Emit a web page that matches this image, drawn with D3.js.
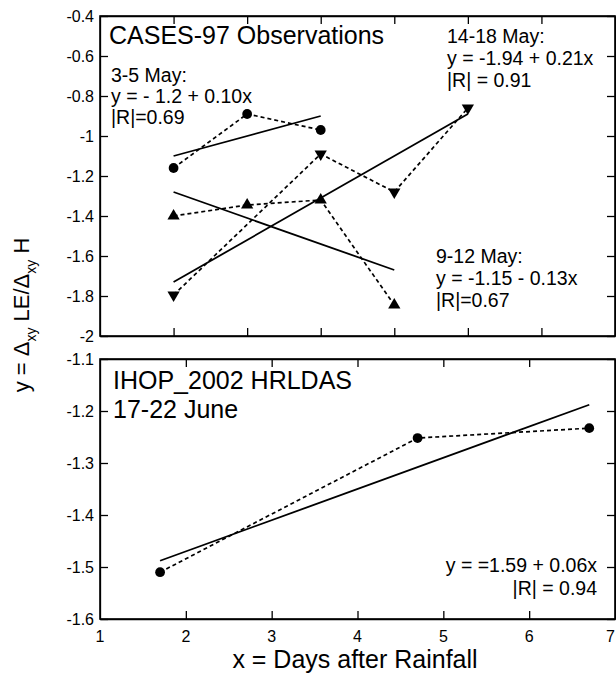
<!DOCTYPE html>
<html lang="en">
<head>
<meta charset="UTF-8">
<title>Delta LE / Delta H vs days after rainfall</title>
<script src="https://d3js.org/d3.v7.min.js"></script>
<style>
  body { margin: 0; background: #fff; }
  svg text { font-family: "Liberation Sans", Arial, sans-serif; fill: #000; }
  .axis path, .axis line { stroke: #000; stroke-width: 1.3; }
  .axis text { font-size: 16px; }
</style>
</head>
<body>
<div id="chart"></div>
<script>
// top panel: CASES-97 observations (x = day index after rain)
var topTicksX = [1, 2, 3, 4, 5, 6];
var topTicksY = [-0.4, -0.6, -0.8, -1, -1.2, -1.4, -1.6, -1.8, -2];

var may3_5X = [1, 2, 3];
var may3_5Y = [-1.16, -0.89, -0.97];
var may9_12X = [1, 2, 3, 4];
var may9_12Y = [-1.40, -1.345, -1.32, -1.845];
var may14_18X = [1, 3, 4, 5];
var may14_18Y = [-1.795, -1.09, -1.28, -0.86];

// regression lines: [intercept, slope, xStart, xEnd]
var fit3_5 = [-1.2, 0.10, 1, 3];
var fit9_12 = [-1.15, -0.13, 1, 4];
var fit14_18 = [-1.94, 0.21, 1, 5];

// bottom panel: IHOP_2002 HRLDAS
var botTicksX = [1, 2, 3, 4, 5, 6, 7];
var botTicksY = [-1.1, -1.2, -1.3, -1.4, -1.5, -1.6];
var juneX = [1.7, 4.7, 6.7];
var juneY = [-1.51, -1.252, -1.233];
var fitJune = [-1.59, 0.06, 1.7, 6.7];

var width = 616, height = 673;
var svg = d3.select("#chart").append("svg")
    .attr("width", width)
    .attr("height", height);

var xTop = d3.scaleLinear().domain([0, 7]).range([100, 615]);
var yTop = d3.scaleLinear().domain([-2, -0.4]).range([336, 16]);
var xBot = d3.scaleLinear().domain([1, 7]).range([100, 615]);
var yBot = d3.scaleLinear().domain([-1.6, -1.1]).range([619, 359]);

function drawFrame(x, y, xTicks, yTicks) {
    var x0 = x.range()[0], x1 = x.range()[1];
    var y0 = y.range()[1], y1 = y.range()[0];

    svg.append("g").attr("class", "axis")
        .attr("transform", "translate(" + x0 + ",0)")
        .call(d3.axisLeft(y).tickValues(yTicks).tickSizeInner(-8).tickSizeOuter(0)
            .tickPadding(6).tickFormat(function(d) { return String(d); }));
    svg.append("g").attr("class", "axis")
        .attr("transform", "translate(" + x1 + ",0)")
        .call(d3.axisRight(y).tickValues(yTicks).tickSizeInner(-8).tickSizeOuter(0).tickFormat(""));
    svg.append("g").attr("class", "axis")
        .attr("transform", "translate(0," + y0 + ")")
        .call(d3.axisTop(x).tickValues(xTicks).tickSizeInner(-8).tickSizeOuter(0).tickFormat(""));
    svg.append("g").attr("class", "axis")
        .attr("transform", "translate(0," + y1 + ")")
        .call(d3.axisBottom(x).tickValues(xTicks).tickSizeInner(-8).tickSizeOuter(0).tickFormat(""));

    svg.append("rect")
        .attr("x", x0).attr("y", y0)
        .attr("width", x1 - x0).attr("height", y1 - y0)
        .attr("fill", "none").attr("stroke", "#000").attr("stroke-width", 1.6);
}

drawFrame(xTop, yTop, topTicksX, topTicksY);
drawFrame(xBot, yBot, botTicksX.slice(1, 6), botTicksY);

// x labels of bottom panel, including the ends 1 and 7
svg.append("g").selectAll("text")
    .data(botTicksX)
    .enter().append("text")
    .attr("x", function(d, i) { return i === botTicksX.length - 1 ? 615 : xBot(d); })
    .attr("y", 642)
    .attr("text-anchor", function(d, i) { return i === botTicksX.length - 1 ? "end" : "middle"; })
    .style("font-size", "16px")
    .text(function(d) { return d; });

function series(x, y, xs, ys, shape) {
    var pts = xs.map(function(d, i) { return [d, ys[i]]; });
    var line = d3.line().x(function(d) { return x(d[0]); }).y(function(d) { return y(d[1]); });
    svg.append("path")
        .attr("d", line(pts))
        .attr("fill", "none").attr("stroke", "#000")
        .attr("stroke-width", 1.7).attr("stroke-dasharray", "4,3");

    var sym = shape === "circle" ? d3.symbolCircle : d3.symbolTriangle;
    var size = shape === "circle" ? 75 : 65;
    svg.append("g").selectAll("path")
        .data(pts)
        .enter().append("path")
        .attr("d", d3.symbol().type(sym).size(size))
        .attr("transform", function(d) {
            return "translate(" + x(d[0]) + "," + y(d[1]) + ")" + (shape === "down" ? " rotate(180)" : "");
        })
        .attr("fill", "#000");
}

function fitLine(x, y, f) {
    var pts = [f[2], f[3]].map(function(d) { return [d, f[0] + f[1] * d]; });
    svg.append("line")
        .attr("x1", x(pts[0][0])).attr("y1", y(pts[0][1]))
        .attr("x2", x(pts[1][0])).attr("y2", y(pts[1][1]))
        .attr("stroke", "#000").attr("stroke-width", 1.8);
}

series(xTop, yTop, may3_5X, may3_5Y, "circle");
series(xTop, yTop, may9_12X, may9_12Y, "up");
series(xTop, yTop, may14_18X, may14_18Y, "down");
fitLine(xTop, yTop, fit3_5);
fitLine(xTop, yTop, fit9_12);
fitLine(xTop, yTop, fit14_18);

series(xBot, yBot, juneX, juneY, "circle");
fitLine(xBot, yBot, fitJune);

// annotations
function label(x, y, lines, size, anchor, gap) {
    var t = svg.append("text")
        .attr("x", x).attr("y", y)
        .attr("text-anchor", anchor || "start")
        .style("font-size", size + "px");
    lines.forEach(function(s, i) {
        t.append("tspan").attr("x", x).attr("dy", i === 0 ? 0 : gap).text(s);
    });
}

label(109, 44, ["CASES-97 Observations"], 25, "start", 0);
label(111, 82, ["3-5 May:", "y = - 1.2 + 0.10x", "|R|=0.69"], 19.5, "start", 21);
label(447, 43, ["14-18 May:", "y = -1.94 + 0.21x", "|R| = 0.91"], 19.5, "start", 22);
label(436, 263, ["9-12 May:", "y = -1.15 - 0.13x", "|R|=0.67"], 19.5, "start", 22);
label(113, 389, ["IHOP_2002 HRLDAS", "17-22 June"], 25, "start", 29);
label(597, 572, ["y = =1.59 + 0.06x", "|R| = 0.94"], 19.5, "end", 23);

// axis titles
svg.append("text")
    .attr("x", 355).attr("y", 668)
    .attr("text-anchor", "middle")
    .style("font-size", "25px")
    .text("x = Days after Rainfall");

var yt = svg.append("text")
    .attr("transform", "translate(29,315) rotate(-90)")
    .attr("text-anchor", "middle")
    .style("font-size", "22px");
yt.append("tspan").text("y = \u0394");
yt.append("tspan").attr("dy", 7).style("font-size", "14px").text("xy");
yt.append("tspan").attr("dy", -7).text(" LE/\u0394");
yt.append("tspan").attr("dy", 7).style("font-size", "14px").text("xy");
yt.append("tspan").attr("dy", -7).text(" H");
</script>
</body>
</html>
